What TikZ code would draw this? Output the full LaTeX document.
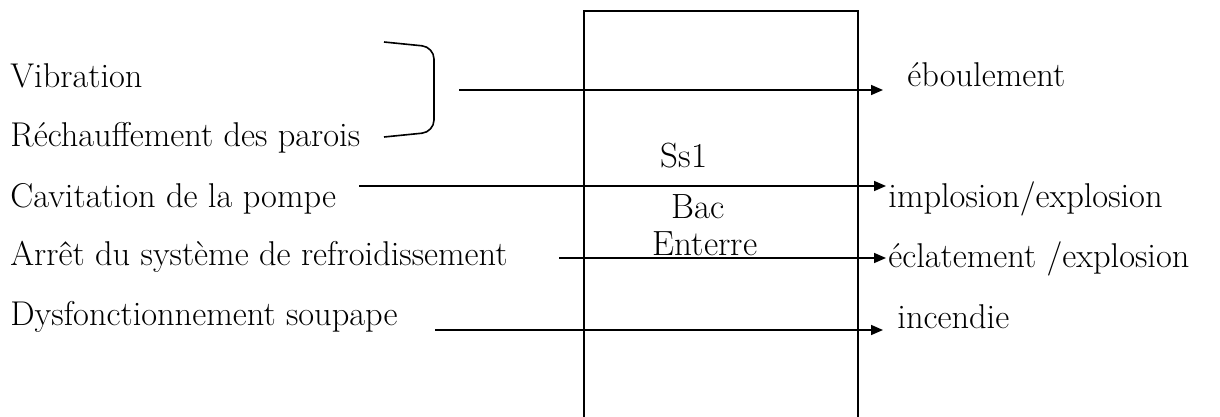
\documentclass[tikz,border=0pt]{standalone}
\usetikzlibrary{arrows.meta}

\begin{document}
\begin{tikzpicture}
  [x=0.5pt,y=-0.5pt]
      \tikzstyle{label_style} = [anchor=base west, inner sep=0, font=\fontsize{17.2}{20}\selectfont]
      \tikzstyle{tank_style} = [anchor=base, inner sep=0, font=\fontsize{17.5}{22}\selectfont]
      \tikzstyle{arrow_style} = [draw=black, line width=0.8pt, -{Triangle[length=6pt,width=5pt]}]
  \useasboundingbox (0,0) rectangle (1220,417);
  % the tank, open at the bottom
  \draw[line width=1pt] (584,417) -- (584,11) -- (858,11) -- (858,417);
  \node[tank_style] (ss) at (684,167) {Ss1};
  \node[tank_style] (bac) at (698,218) {Bac};
  \node[tank_style] (ent) at (705,255) {Enterre};
  % causes
  \node[label_style] (vib) at (10,88) {Vibration};
  \node[label_style] (rech) at (10,147) {Réchauffement des parois};
  \node[label_style] (cav) at (10,207) {Cavitation de la pompe};
  \node[label_style] (arret) at (10,265) {Arrêt du système de refroidissement};
  \node[label_style] (dysf) at (10,325) {Dysfonctionnement soupape};
  % effects
  \node[label_style] (ebo) at (907,87) {éboulement};
  \node[label_style] (impl) at (888,207) {implosion/explosion};
  \node[label_style] (ecl) at (888,267) {éclatement /explosion};
  \node[label_style] (inc) at (897,328) {incendie};
  % bracket joining the first two causes
  \coordinate (b0) at (384,42);
  \coordinate (b1) at (434,47);
  \coordinate (b2) at (434,132);
  \coordinate (b3) at (384,137);
  \draw[line width=0.8pt, rounded corners=6pt] (b0) -- (b1) -- (b2) -- (b3);
  % arrow ends
  \coordinate (s1) at (459,90);   \coordinate (t1) at (883,90);
  \coordinate (s2) at (359,186);  \coordinate (t2) at (886,186);
  \coordinate (s3) at (559,258);  \coordinate (t3) at (886,258);
  \coordinate (s4) at (435,330);  \coordinate (t4) at (883,330);
  \draw[arrow_style] (s1) -- (t1);
  \draw[arrow_style] (s2) -- (t2);
  \draw[arrow_style] (s3) -- (t3);
  \draw[arrow_style] (s4) -- (t4);
\end{tikzpicture}
\end{document}
